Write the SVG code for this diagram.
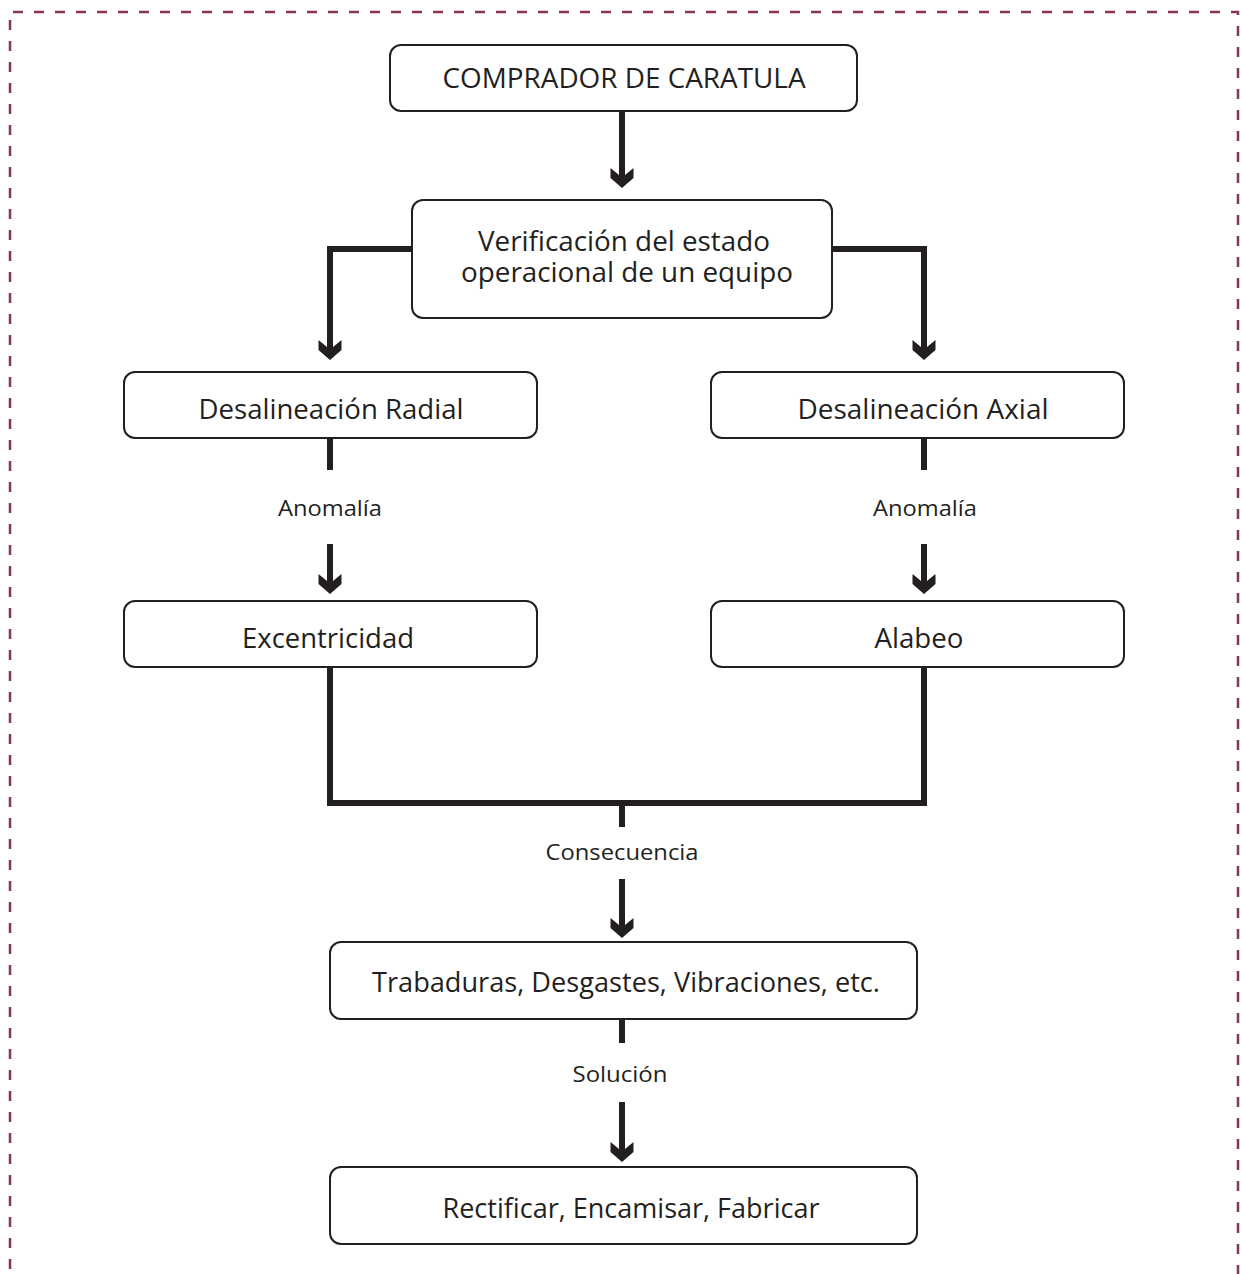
<svg xmlns="http://www.w3.org/2000/svg" width="1241" height="1274" viewBox="0 0 1241 1274">
<defs>
<marker id="ah" markerUnits="userSpaceOnUse" viewBox="-25 -12 30 24" markerWidth="30" markerHeight="24" refX="-5" refY="0" orient="auto" overflow="visible">
<path d="M0,0 L-10,-11.5 L-20,-11.5 L-13,-3 L-13,3 L-20,11.5 L-10,11.5 Z" fill="#231f20"/>
</marker>
</defs>
<style>
.box{fill:#fff;stroke:#231f20;stroke-width:2}
.t{font-family:"Open Sans","Noto Sans","Liberation Sans",sans-serif;font-size:27px;fill:#231f20;text-anchor:middle}
.l{font-family:"Open Sans","Noto Sans","Liberation Sans",sans-serif;font-size:21px;fill:#231f20;text-anchor:middle}
.c{fill:none;stroke:#231f20;stroke-width:6}
</style>
<rect width="1241" height="1274" fill="#fff"/>
<path d="M10,1290 L10,12 L1238,12 L1238,1290" fill="none" stroke="#873650" stroke-width="2.5" stroke-dasharray="10,11"/>
<g id="connectors">
<line class="c" x1="622" y1="111" x2="622" y2="183" marker-end="url(#ah)"/>
<polyline class="c" points="412,249 330,249 330,355" marker-end="url(#ah)"/>
<polyline class="c" points="832,249 924,249 924,355" marker-end="url(#ah)"/>
<line class="c" x1="330" y1="438" x2="330" y2="470"/>
<line class="c" x1="330" y1="544" x2="330" y2="589" marker-end="url(#ah)"/>
<line class="c" x1="924" y1="438" x2="924" y2="470"/>
<line class="c" x1="924" y1="544" x2="924" y2="589" marker-end="url(#ah)"/>
<polyline class="c" points="330,667 330,803 924,803 924,667"/>
<line class="c" x1="622" y1="803" x2="622" y2="827"/>
<line class="c" x1="622" y1="879" x2="622" y2="933" marker-end="url(#ah)"/>
<line class="c" x1="622" y1="1019" x2="622" y2="1043"/>
<line class="c" x1="622" y1="1102" x2="622" y2="1157" marker-end="url(#ah)"/>
<text class="l" x="330" y="516" textLength="104" lengthAdjust="spacingAndGlyphs">Anomalía</text>
<text class="l" x="925" y="516" textLength="104" lengthAdjust="spacingAndGlyphs">Anomalía</text>
<text class="l" x="622" y="860" textLength="153" lengthAdjust="spacingAndGlyphs">Consecuencia</text>
<text class="l" x="620" y="1082" textLength="95" lengthAdjust="spacingAndGlyphs">Solución</text>
</g>
<g id="n1"><rect class="box" x="390" y="45" width="467" height="66" rx="11"/><text class="t" x="624" y="88" textLength="363" lengthAdjust="spacingAndGlyphs">COMPRADOR DE CARATULA</text></g>
<g id="n2"><rect class="box" x="412" y="200" width="420" height="118" rx="11"/><text class="t" x="624" y="251" textLength="292" lengthAdjust="spacingAndGlyphs">Verificación del estado</text><text class="t" x="627" y="282" textLength="332" lengthAdjust="spacingAndGlyphs">operacional de un equipo</text></g>
<g id="n3"><rect class="box" x="124" y="372" width="413" height="66" rx="11"/><text class="t" x="331" y="419" textLength="265" lengthAdjust="spacingAndGlyphs">Desalineación Radial</text></g>
<g id="n4"><rect class="box" x="711" y="372" width="413" height="66" rx="11"/><text class="t" x="923" y="419" textLength="251" lengthAdjust="spacingAndGlyphs">Desalineación Axial</text></g>
<g id="n5"><rect class="box" x="124" y="601" width="413" height="66" rx="11"/><text class="t" x="328" y="648" textLength="172" lengthAdjust="spacingAndGlyphs">Excentricidad</text></g>
<g id="n6"><rect class="box" x="711" y="601" width="413" height="66" rx="11"/><text class="t" x="919" y="648" textLength="89" lengthAdjust="spacingAndGlyphs">Alabeo</text></g>
<g id="n7"><rect class="box" x="330" y="942" width="587" height="77" rx="11"/><text class="t" x="626" y="992" textLength="508" lengthAdjust="spacingAndGlyphs">Trabaduras, Desgastes, Vibraciones, etc.</text></g>
<g id="n8"><rect class="box" x="330" y="1167" width="587" height="77" rx="11"/><text class="t" x="631" y="1218" textLength="377" lengthAdjust="spacingAndGlyphs">Rectificar, Encamisar, Fabricar</text></g>
</svg>
